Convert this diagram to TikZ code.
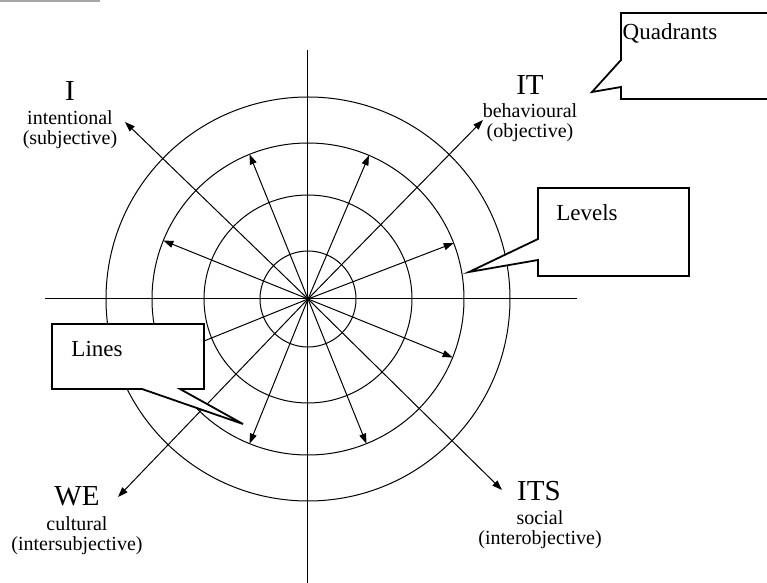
\documentclass[tikz,border=0pt]{standalone}
\usepackage{fontspec}
\setmainfont{Liberation Serif}
\usepackage{tikz}
\usetikzlibrary{arrows.meta}

\begin{document}
\begin{tikzpicture}[x=0.5pt,y=0.5pt,line width=0.5pt,
    ray/.style={-{Triangle[length=5pt,width=3.5pt]}},
    quad/.style={inner sep=0pt,font=\fontsize{14.5}{14.5}\selectfont},
    qsub/.style={inner sep=0pt,align=center,font=\fontsize{10}{10}\selectfont},
    callbox/.style={draw,fill=white,line width=0.9pt},
    calltext/.style={inner sep=0pt,font=\fontsize{11.5}{11.5}\selectfont}]
  \useasboundingbox (-308,-284) rectangle (459,299);
  % ---- scan mark, top left ----
  \draw[gray!70,line width=1pt] (-308,298) -- (-208,298);
  % ---- axes ----
  \coordinate (o) at (0,0);
  \coordinate (axW) at (-263,0);
  \coordinate (axE) at (269,0);
  \coordinate (axN) at (0,249);
  \coordinate (axS) at (0,-284);
  \draw (axW) -- (axE);
  \draw (axN) -- (axS);
  % ---- levels (rings) ----
  \foreach \r in {48,104,156,202}{
      \draw (o) circle[radius=\r];}
  % ---- lines (short arrows) ----
  \foreach \a in {21,67,112,158,202,248,292,338}{
      \coordinate (ln\a) at (\a:156);
      \draw[ray] (o) -- (ln\a);}
  % ---- quadrant arrows ----
  \coordinate (tipI) at (-183,177);
  \coordinate (tipIT) at (175,179);
  \coordinate (tipWE) at (-190,-198);
  \coordinate (tipITS) at (194,-191);
  \foreach \t in {tipI,tipIT,tipWE,tipITS}{
      \draw[ray] (o) -- (\t);}
  % ---- quadrant labels ----
  \node[quad] (lblI) at (-238,208) {I};
  \node[qsub] (subI) at (-238,169) {intentional\\(subjective)};
  \node[quad] (lblIT) at (222,214) {IT};
  \node[qsub] (subIT) at (222,176.5) {behavioural\\(objective)};
  \node[quad] (lblWE) at (-231,-197) {WE};
  \node[qsub] (subWE) at (-231,-236.5) {cultural\\(intersubjective)};
  \node[quad] (lblITS) at (231,-192) {ITS};
  \node[qsub] (subITS) at (232,-230.5) {social\\(interobjective)};
  % ---- callouts ----
  \filldraw[callbox] (459,286) -- (313,286) -- (313,239) -- (284,207)
      -- (313,212) -- (313,200) -- (459,200);
  \node[calltext] (txtQuad) at (362,266) {Quadrants};
  \filldraw[callbox] (230,111) -- (381,111) -- (381,23) -- (230,23)
      -- (230,39) -- (161,27) -- (230,60) -- cycle;
  \node[calltext] (txtLev) at (279,86) {Levels};
  \filldraw[callbox] (-256,-25) -- (-104,-25) -- (-104,-90) -- (-128,-90)
      -- (-65,-125) -- (-166,-90) -- (-256,-90) -- cycle;
  \node[calltext] (txtLines) at (-211,-50) {Lines};
\end{tikzpicture}
\end{document}
